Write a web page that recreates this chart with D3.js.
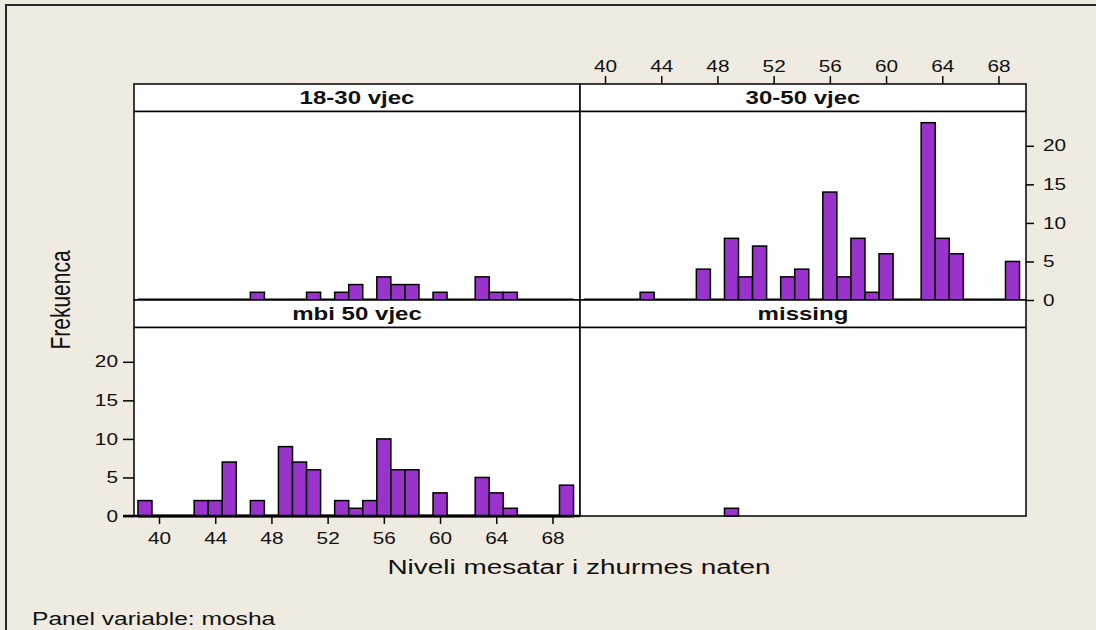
<!DOCTYPE html>
<html>
<head>
<meta charset="utf-8">
<script src="https://cdn.jsdelivr.net/npm/d3@7/dist/d3.min.js"></script>
<style>
  html, body { margin: 0; padding: 0; background: #EFEBE1; overflow: hidden; }
  svg { display: block; overflow: hidden; }
  text { font-family: "Liberation Sans", Arial, sans-serif; fill: #111; }
</style>
</head>
<body>
<svg id="chart" width="1096" height="630"></svg>
<script>
// Histogram bins (midpoints, width 1)
const binMids = [39, 40, 41, 42, 43, 44, 45, 46, 47, 48, 49, 50, 51, 52, 53, 54,
                 55, 56, 57, 58, 59, 60, 61, 62, 63, 64, 65, 66, 67, 68, 69];

// Counts per bin for each age group (panel variable: mosha)
const counts18to30 = [0, 0, 0, 0, 0, 0, 0, 0, 1, 0, 0, 0, 1, 0, 1, 2,
                      0, 3, 2, 2, 0, 1, 0, 0, 3, 1, 1, 0, 0, 0, 0];
const counts30to50 = [0, 0, 0, 0, 1, 0, 0, 0, 4, 0, 8, 3, 7, 0, 3, 4,
                      0, 14, 3, 8, 1, 6, 0, 0, 23, 8, 6, 0, 0, 0, 5];
const countsOver50 = [2, 0, 0, 0, 2, 2, 7, 0, 2, 0, 9, 7, 6, 0, 2, 1,
                      2, 10, 6, 6, 0, 3, 0, 0, 5, 3, 1, 0, 0, 0, 4];
const countsMissing = [0, 0, 0, 0, 0, 0, 0, 0, 0, 0, 1, 0, 0, 0, 0, 0,
                       0, 0, 0, 0, 0, 0, 0, 0, 0, 0, 0, 0, 0, 0, 0];

const panelNames = ["18-30 vjec", "30-50 vjec", "mbi 50 vjec", "missing"];
const xTicks = [40, 44, 48, 52, 56, 60, 64, 68];
const yTicks = [0, 5, 10, 15, 20];

const xTitle = "Niveli mesatar i zhurmes naten";
const yTitle = "Frekuenca";
const footnote = "Panel variable: mosha";

const panels = [
  { name: panelNames[0], counts: counts18to30, col: 0, row: 0, baseline: true },
  { name: panelNames[1], counts: counts30to50, col: 1, row: 0, baseline: true },
  { name: panelNames[2], counts: countsOver50, col: 0, row: 1, baseline: true },
  { name: panelNames[3], counts: countsMissing, col: 1, row: 1, baseline: false }
];

// Layout
const svg = d3.select("#chart");
const colX = [134, 580];
const panelW = 446;
const rowTop = [84, 300];
const stripH = 27.5;
const dataH = 188.5;
const purple = "#9933CC";
const stretch = 1.3; // horizontal text stretch

const x = d3.scaleLinear().domain([38.22, 69.96]).range([0, panelW]);
const y = d3.scaleLinear().domain([0, 24.45]).range([dataH, 0]);

// Outer frame: only the top and left edges lie on the page
svg.append("line")
  .attr("x1", 6).attr("x2", 1096).attr("y1", 5).attr("y2", 5)
  .attr("stroke", "#2a2a2a").attr("stroke-width", 2);
svg.append("line")
  .attr("x1", 6).attr("x2", 6).attr("y1", 4).attr("y2", 630)
  .attr("stroke", "#2a2a2a").attr("stroke-width", 2);

panels.forEach(p => {
  const g = svg.append("g")
    .attr("transform", `translate(${colX[p.col]},${rowTop[p.row]})`);

  // strip
  g.append("rect")
    .attr("x", 0).attr("y", 0).attr("width", panelW).attr("height", stripH)
    .attr("fill", "#fff").attr("stroke", "#000").attr("stroke-width", 1.5);
  g.append("text")
    .attr("transform", `translate(${panelW / 2},${stripH / 2 + 6.5}) scale(${stretch},1)`)
    .attr("text-anchor", "middle")
    .attr("font-size", 18.5).attr("font-weight", "bold")
    .text(p.name);

  // data area
  const d = g.append("g").attr("transform", `translate(0,${stripH})`);
  d.append("rect")
    .attr("x", 0).attr("y", 0).attr("width", panelW).attr("height", dataH)
    .attr("fill", "#fff").attr("stroke", "#000").attr("stroke-width", 1.5);

  const bins = binMids.map((m, i) => ({ mid: m, n: p.counts[i] }));

  if (p.baseline) {
    d.append("line")
      .attr("x1", x(binMids[0] - 0.5)).attr("x2", x(binMids[binMids.length - 1] + 0.5))
      .attr("y1", y(0)).attr("y2", y(0))
      .attr("stroke", "#000").attr("stroke-width", 3);
  }

  d.selectAll("rect.bar")
    .data(bins.filter(b => b.n > 0))
    .join("rect")
    .attr("class", "bar")
    .attr("x", b => x(b.mid - 0.5))
    .attr("width", b => x(b.mid + 0.5) - x(b.mid - 0.5))
    .attr("y", b => y(b.n))
    .attr("height", b => y(0) - y(b.n))
    .attr("fill", purple)
    .attr("stroke", "#000")
    .attr("stroke-width", 1.5);
});

// Axes
function styleAxis(sel) {
  sel.select(".domain").remove();
  sel.selectAll(".tick line").attr("stroke", "#000").attr("stroke-width", 1.5);
  sel.selectAll(".tick text").attr("font-size", 16).attr("fill", "#111")
    .attr("font-family", '"Liberation Sans", Arial, sans-serif');
}

// top axis over the right column
const topAxis = svg.append("g")
  .attr("transform", `translate(${colX[1]},${rowTop[0]})`)
  .call(d3.axisTop(x).tickValues(xTicks).tickSize(8).tickPadding(4));
styleAxis(topAxis);
topAxis.selectAll(".tick text").attr("transform", `scale(${stretch},1)`);

// right axis on the top-right panel
const rightAxis = svg.append("g")
  .attr("transform", `translate(${colX[1] + panelW},${rowTop[0] + stripH})`)
  .call(d3.axisRight(y).tickValues(yTicks).tickSize(8).tickPadding(9));
styleAxis(rightAxis);
rightAxis.selectAll(".tick text")
  .attr("x", 0)
  .attr("transform", `translate(17,0) scale(${stretch},1)`);

// bottom axis under the left column
const bottomAxis = svg.append("g")
  .attr("transform", `translate(${colX[0]},${rowTop[1] + stripH + dataH})`)
  .call(d3.axisBottom(x).tickValues(xTicks).tickSize(8).tickPadding(9));
styleAxis(bottomAxis);
bottomAxis.selectAll(".tick text").attr("transform", `scale(${stretch},1)`);
bottomAxis.append("line")
  .attr("x1", -11).attr("x2", panelW).attr("y1", 0).attr("y2", 0)
  .attr("stroke", "#000").attr("stroke-width", 2.5);

// left axis on the bottom-left panel
const leftAxis = svg.append("g")
  .attr("transform", `translate(${colX[0]},${rowTop[1] + stripH})`)
  .call(d3.axisLeft(y).tickValues(yTicks).tickSize(11).tickPadding(5));
styleAxis(leftAxis);
leftAxis.selectAll(".tick text")
  .attr("x", 0)
  .attr("transform", `translate(-16,0) scale(${stretch},1)`);

// Axis titles
svg.append("text")
  .attr("transform", `translate(579,574) scale(1.33,1)`)
  .attr("text-anchor", "middle")
  .attr("font-size", 21)
  .text(xTitle);

svg.append("text")
  .attr("transform", `translate(70,300) rotate(-90) scale(1,1.33)`)
  .attr("text-anchor", "middle")
  .attr("font-size", 21)
  .text(yTitle);

// Footnote
svg.append("text")
  .attr("transform", `translate(32,625) scale(1.33,1)`)
  .attr("font-size", 18.5)
  .text(footnote);
</script>
</body>
</html>
